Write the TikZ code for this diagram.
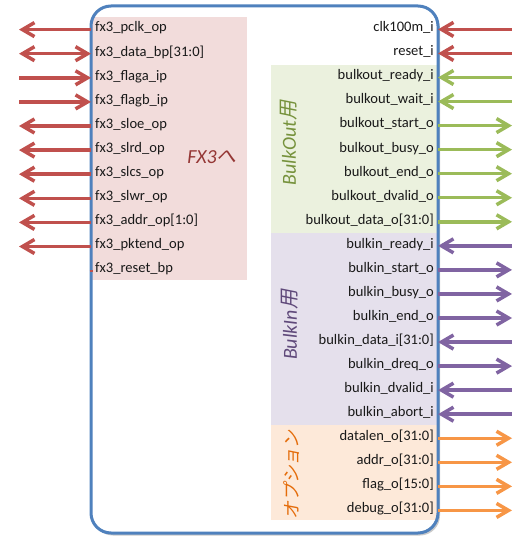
\documentclass[tikz,border=0pt]{standalone}
\usepackage{fontspec}
\setmainfont{Carlito}
\newfontfamily\cjk[FakeSlant=0.2]{Noto Sans CJK JP}
\usetikzlibrary{arrows.meta,shadows}
\definecolor{boxblue}{HTML}{4F81BD}
\definecolor{sigred}{HTML}{C0504D}
\definecolor{siggreen}{HTML}{9BBB59}
\definecolor{sigpurple}{HTML}{8064A2}
\definecolor{sigorange}{HTML}{F79646}
\definecolor{fillred}{HTML}{F2DCDB}
\definecolor{fillgreen}{HTML}{EBF1DE}
\definecolor{fillpurple}{HTML}{E5E0EC}
\definecolor{fillorange}{HTML}{FDE9D9}
\definecolor{txtred}{HTML}{953735}
\definecolor{txtgreen}{HTML}{76923C}
\definecolor{txtpurple}{HTML}{5F497A}
\definecolor{txtorange}{HTML}{E46C0A}
\begin{document}
\begin{tikzpicture}[x=1bp,y=-1bp,
  font=\fontsize{14.6}{17}\selectfont,
  lab/.style={inner sep=0pt, text=black!90},
  sig/.style={line width=3.5bp},
  barb/.tip={Straight Barb[length=12bp,width=14bp]},
  outsig/.style={-{barb}},
  insig/.style={{barb}-},
  bisig/.style={{barb}-{barb}},
  vlab/.style={inner sep=0pt, font=\fontsize{20}{24}\selectfont\itshape},
  modbox/.style={rounded corners=20bp}]
\useasboundingbox (0,0) rectangle (531,545);
% module box
\fill[modbox, white, drop shadow={shadow xshift=2bp, shadow yshift=-2.5bp, opacity=0.35, fill=black!60}] (91,6) rectangle (438,533);
\begin{scope}
  \clip[modbox] (91,6) rectangle (438,533);
  \fill[fillred] (91,17) rectangle (247,280);
  \fill[fillgreen] (271,65) rectangle (438,233);
  \fill[fillpurple] (271,233) rectangle (438,425);
  \fill[fillorange] (271,425) rectangle (438,520);
\end{scope}
\draw[modbox, boxblue, line width=3bp] (91,6) rectangle (438,533);
% left side signals
\foreach \t/\d [count=\i] in {fx3\_pclk\_op/outsig, {fx3\_data\_bp[31:0]}/bisig, fx3\_flaga\_ip/insig, fx3\_flagb\_ip/insig, fx3\_sloe\_op/outsig, fx3\_slrd\_op/outsig, fx3\_slcs\_op/outsig, fx3\_slwr\_op/outsig, {fx3\_addr\_op[1:0]}/outsig, fx3\_pktend\_op/outsig}{
  \pgfmathsetmacro\yy{29.6+24.1*(\i-1)}
  \node[lab, anchor=mid west] (L\i) at (95,\yy) {\t};
  \coordinate (LE\i) at (91,\yy);
  \coordinate (LO\i) at (19,\yy);
  \draw[sig, sigred, \d] (LE\i) -- (LO\i);
}
\node[lab, anchor=mid west] (L11) at (95,270.6) {fx3\_reset\_bp};
\coordinate (LE11) at (89.5,270.6);
\coordinate (LX11) at (92.5,270.6);
\draw[sigred, line width=2bp] (LE11) -- (LX11);
% right side signals
\foreach \t/\d/\c [count=\i] in {clk100m\_i/insig/sigred, reset\_i/insig/sigred,
  bulkout\_ready\_i/insig/siggreen, bulkout\_wait\_i/insig/siggreen, bulkout\_start\_o/outsig/siggreen, bulkout\_busy\_o/outsig/siggreen, bulkout\_end\_o/outsig/siggreen, bulkout\_dvalid\_o/outsig/siggreen, {bulkout\_data\_o[31:0]}/outsig/siggreen,
  bulkin\_ready\_i/insig/sigpurple, bulkin\_start\_o/outsig/sigpurple, bulkin\_busy\_o/outsig/sigpurple, bulkin\_end\_o/outsig/sigpurple, {bulkin\_data\_i[31:0]}/insig/sigpurple, bulkin\_dreq\_o/outsig/sigpurple, bulkin\_dvalid\_i/insig/sigpurple, bulkin\_abort\_i/insig/sigpurple,
  {datalen\_o[31:0]}/outsig/sigorange, {addr\_o[31:0]}/outsig/sigorange, {flag\_o[15:0]}/outsig/sigorange, {debug\_o[31:0]}/outsig/sigorange}{
  \pgfmathsetmacro\yy{29.4+24.05*(\i-1)}
  \node[lab, anchor=mid east] (R\i) at (434,\yy) {\t};
  \coordinate (RE\i) at (438,\yy);
  \coordinate (RO\i) at (512,\yy);
  \draw[sig, \c, \d] (RE\i) -- (RO\i);
}
% group labels
\node[vlab, text=txtred] (fx3) at (212,157) {FX3{\cjk へ}};
\node[vlab, text=txtgreen, rotate=90] (bulkout) at (289,143) {BulkOut{\cjk 用}};
\node[vlab, text=txtpurple, rotate=90] (bulkin) at (290,325) {BulkIn{\cjk 用}};
\node[vlab, text=txtorange, rotate=90, font=\fontsize{18}{22}\selectfont] (option) at (292,475) {\cjk オプション};
\end{tikzpicture}
\end{document}
